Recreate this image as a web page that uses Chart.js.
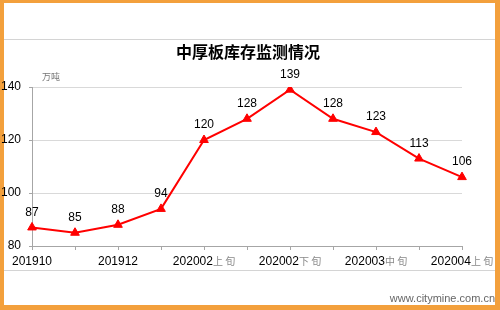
<!DOCTYPE html>
<html>
<head>
<meta charset="utf-8">
<script src="https://cdn.jsdelivr.net/npm/chart.js@4"></script>
<style>
  html, body { margin: 0; padding: 0; background: #fff; }
  #wrap { width: 500px; height: 310px; position: relative; }
</style>
</head>
<body>
<div id="wrap"><canvas id="chart" width="500" height="310"></canvas></div>
<script>
// data
const categories = ['201910', '201911', '201912', '202001', '202002上旬', '202002中旬',
  '202002下旬', '202003上旬', '202003中旬', '202003下旬', '202004上旬'];
const inventory = [87, 85, 88, 94, 120, 128, 139, 128, 123, 113, 106];
const yTicks = [80, 100, 120, 140];
const unitLabel = '万吨';
const titleText = '中厚板库存监测情况';
const sourceText = 'www.citymine.com.cn';

const NUM_FONT = 'Arial, "Liberation Sans", sans-serif';
const CJK_FONT = '"Noto Sans CJK SC", sans-serif';

// frame, title, separator lines, unit, watermark
const decor = {
  id: 'decor',
  beforeDraw(chart) {
    const c = chart.ctx;
    c.save();
    c.fillStyle = '#fff';
    c.fillRect(0, 0, 500, 310);
    c.fillStyle = '#f3a03c';
    c.fillRect(0, 0, 500, 3);
    c.fillRect(0, 0, 4, 310);
    c.fillRect(495, 0, 5, 310);
    c.fillRect(0, 305, 500, 5);
    c.strokeStyle = '#d4d4d4';
    c.lineWidth = 1;
    c.beginPath();
    c.moveTo(4, 39.5); c.lineTo(495, 39.5);
    c.moveTo(4, 270.5); c.lineTo(495, 270.5);
    c.stroke();
    // title
    c.fillStyle = '#000';
    c.font = 'bold 16px ' + CJK_FONT;
    c.textAlign = 'center';
    c.textBaseline = 'middle';
    c.fillText(titleText, 248, 52);
    c.restore();
  },
  afterDraw(chart) {
    const c = chart.ctx;
    const x = chart.scales.x;
    c.save();
    // unit
    c.fillStyle = '#777';
    c.font = '9px ' + CJK_FONT;
    c.textBaseline = 'middle';
    c.fillText(unitLabel, 42, 77);
    // x labels: number black, suffix grey
    c.textBaseline = 'alphabetic';
    categories.forEach((lab, i) => {
      if (i % 2) return;
      const main = lab.slice(0, 6), suf = lab.slice(6).split('').join(' ');
      c.font = '12px ' + NUM_FONT;
      const w1 = c.measureText(main).width;
      c.font = '10px ' + CJK_FONT;
      const w2 = suf ? c.measureText(suf).width : 0;
      const px = x.getPixelForValue(i) - (w1 + w2) / 2;
      c.textAlign = 'left';
      c.fillStyle = '#000';
      c.font = '12px ' + NUM_FONT;
      c.fillText(main, px, 265);
      if (suf) {
        c.fillStyle = '#888';
        c.font = '10px ' + CJK_FONT;
        c.fillText(suf, px + w1, 265);
      }
    });
    // watermark
    c.fillStyle = '#666';
    c.font = '11px ' + NUM_FONT;
    c.textAlign = 'right';
    c.fillText(sourceText, 495, 302);
    c.restore();
  },
  afterDatasetsDraw(chart) {
    const c = chart.ctx;
    const meta = chart.getDatasetMeta(0);
    c.save();
    c.fillStyle = '#000';
    c.font = '12px ' + NUM_FONT;
    c.textAlign = 'center';
    c.textBaseline = 'middle';
    meta.data.forEach((pt, i) => {
      c.fillText(String(inventory[i]), pt.x, pt.y - 15);
    });
    c.restore();
  }
};

new Chart(document.getElementById('chart'), {
  type: 'line',
  data: {
    labels: categories,
    datasets: [{
      data: inventory,
      borderColor: '#ff0000',
      backgroundColor: '#ff0000',
      borderWidth: 2,
      tension: 0,
      pointStyle: 'triangle',
      pointRadius: 5,
      pointBorderWidth: 1
    }]
  },
  options: {
    responsive: false,
    animation: false,
    layout: { padding: { left: 0, right: 38, top: 87, bottom: 0 } },
    plugins: {
      legend: { display: false },
      tooltip: { enabled: false },
      title: { display: false }
    },
    scales: {
      x: {
        offset: false,
        ticks: { display: false },
        grid: { drawOnChartArea: false, drawTicks: true, tickLength: 4, color: '#a6a6a6' },
        border: { color: '#a6a6a6' },
        afterFit(s) { s.height = 64; }
      },
      y: {
        min: yTicks[0],
        max: yTicks[yTicks.length - 1],
        afterBuildTicks(s) { s.ticks = yTicks.map(v => ({ value: v })); },
        ticks: { color: '#000', font: { family: NUM_FONT, size: 12 }, padding: 8 },
        grid: { color: '#d9d9d9', tickLength: 3, tickColor: '#a6a6a6' },
        border: { color: '#a6a6a6' },
        afterFit(s) { s.width = 32; }
      }
    }
  },
  plugins: [decor]
});
</script>
</body>
</html>
